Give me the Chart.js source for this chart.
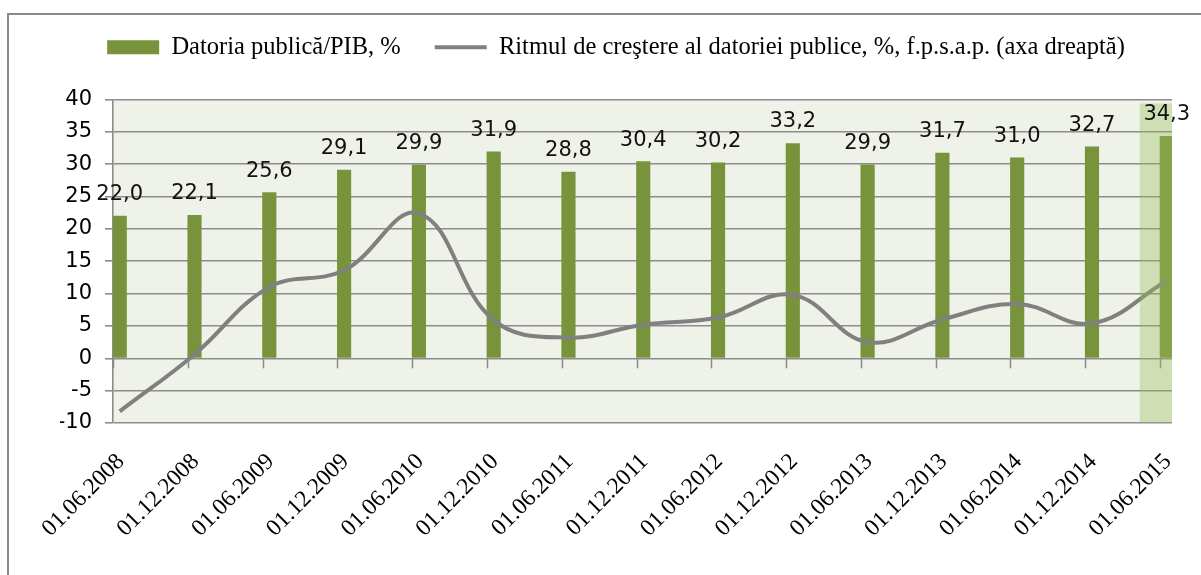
<!DOCTYPE html>
<html>
<head>
<meta charset="utf-8">
<script src="https://cdn.jsdelivr.net/npm/chart.js@4.4.1/dist/chart.umd.min.js"></script>
<style>
html,body{margin:0;padding:0;background:#fff;}
#wrap{width:1201px;height:575px;}
</style>
</head>
<body>
<div id="wrap"><canvas id="c" width="1201" height="575"></canvas></div>
<script>
// ---- data ----
const categories = ['01.06.2008','01.12.2008','01.06.2009','01.12.2009','01.06.2010','01.12.2010','01.06.2011','01.12.2011','01.06.2012','01.12.2012','01.06.2013','01.12.2013','01.06.2014','01.12.2014','01.06.2015'];
const debtToGdp = [22.0,22.1,25.6,29.1,29.9,31.9,28.8,30.4,30.2,33.2,29.9,31.7,31.0,32.7,34.3];
const debtGrowth = [-8.2,0.6,11.0,13.6,22.4,5.9,3.2,5.2,6.3,9.8,2.5,6.0,8.4,5.4,12.0];
const yTicks = {min:-10, max:40, step:5};
const legendBar = 'Datoria publică/PIB, %';
const legendLine = 'Ritmul de creştere al datoriei publice, %, f.p.s.a.p. (axa dreaptă)';

const BAR_W = 13.5;
const X_MAX = 14.16;
const SHIFT = 0.09;

const decor = {
  id:'decor',
  beforeDraw(chart){
    const {ctx, chartArea:a} = chart;
    ctx.save();
    ctx.fillStyle = '#EFF2E9';
    ctx.fillRect(a.left, a.top, a.right-a.left, a.bottom-a.top);
    ctx.strokeStyle = '#8a8a8a';
    ctx.lineWidth = 2;
    ctx.strokeRect(8, 14, 1300, 700);
    ctx.restore();
  },
  afterDatasetsDraw(chart){
    const {ctx, chartArea:a, scales} = chart;
    const x = scales.x, y = scales.y;
    ctx.save();
    const y0 = y.getPixelForValue(0);
    ctx.strokeStyle = '#8a8a8a';
    ctx.lineWidth = 1.5;
    for (let i=0;i<categories.length;i++){
      const px = Math.round(x.getPixelForValue(i))+0.5;
      ctx.beginPath(); ctx.moveTo(px,y0); ctx.lineTo(px,y0+10); ctx.stroke();
    }
    const last = categories.length-1;
    const sp = x.getPixelForValue(last)-x.getPixelForValue(last-1);
    const bl = x.getPixelForValue(last)-0.27*sp;
    ctx.fillStyle = 'rgba(155,188,89,0.37)';
    ctx.fillRect(bl, a.top+4, a.right-bl, a.bottom-a.top-4);
    const meta = chart.getDatasetMeta(0);
    ctx.fillStyle = '#111';
    ctx.font = '21px "DejaVu Sans"';
    ctx.textAlign = 'center';
    ctx.textBaseline = 'alphabetic';
    meta.data.forEach((el,i)=>{
      ctx.fillText(debtToGdp[i].toFixed(1).replace('.',','), el.x, el.y-16);
    });
    ctx.restore();
  }
};

new Chart(document.getElementById('c'), {
  type:'bar',
  data:{
    datasets:[
      {type:'bar', label:legendBar, data:debtToGdp.map((v,i)=>({x:i,y:v})), backgroundColor:'#77933C', borderWidth:0, pointStyle:'rect', barThickness:BAR_W, xAxisID:'xb', yAxisID:'y', order:2},
      {type:'line', label:legendLine, data:debtGrowth.map((v,i)=>({x:i,y:v})), borderColor:'#808080', backgroundColor:'#808080', borderWidth:4, tension:0.4, pointRadius:0, pointStyle:'line', fill:false, xAxisID:'xb', yAxisID:'y2', order:1}
    ]
  },
  options:{
    responsive:false,
    animation:false,
    layout:{padding:{left:60, right:29, top:1, bottom:0}},
    plugins:{
      legend:{
        position:'top',
        labels:{
          usePointStyle:true, pointStyleWidth:52, boxHeight:14, padding:34,
          color:'#000', font:{family:'"Liberation Serif"', size:24.5},
          sort:(a,b)=>a.datasetIndex-b.datasetIndex
        }
      },
      tooltip:{enabled:false}
    },
    scales:{
      x:{
        type:'linear', position:'bottom', min:0, max:X_MAX, offset:false,
        grid:{display:false}, border:{display:false},
        afterFit(s){ s.height = 152; },
        ticks:{
          stepSize:1, includeBounds:false, autoSkip:false, maxRotation:45, minRotation:45, padding:17, labelOffset:8,
          color:'#000', font:{family:'"Liberation Serif"', size:23.5},
          callback:(v)=>categories[v] ?? ''
        }
      },
      xb:{
        type:'linear', position:'top', min:-SHIFT, max:X_MAX-SHIFT, offset:false,
        grid:{display:false, drawTicks:false}, border:{display:false},
        ticks:{display:false, stepSize:1, includeBounds:false},
        afterFit(s){ s.height = 30; }
      },
      y:{
        min:yTicks.min, max:yTicks.max,
        afterFit(s){ s.width = 53; },
        grid:{color:'#8c8c8c', lineWidth:1.6, tickLength:8, drawTicks:true},
        border:{display:true, color:'#8c8c8c', width:1.6},
        ticks:{stepSize:yTicks.step, padding:13, color:'#000', font:{family:'"DejaVu Sans"', size:21}}
      },
      y2:{
        position:'right', min:yTicks.min, max:yTicks.max,
        grid:{display:false, drawTicks:false}, border:{display:false},
        ticks:{display:false},
        afterFit(s){ s.width = 0; }
      }
    }
  },
  plugins:[decor]
});
</script>
</body>
</html>
